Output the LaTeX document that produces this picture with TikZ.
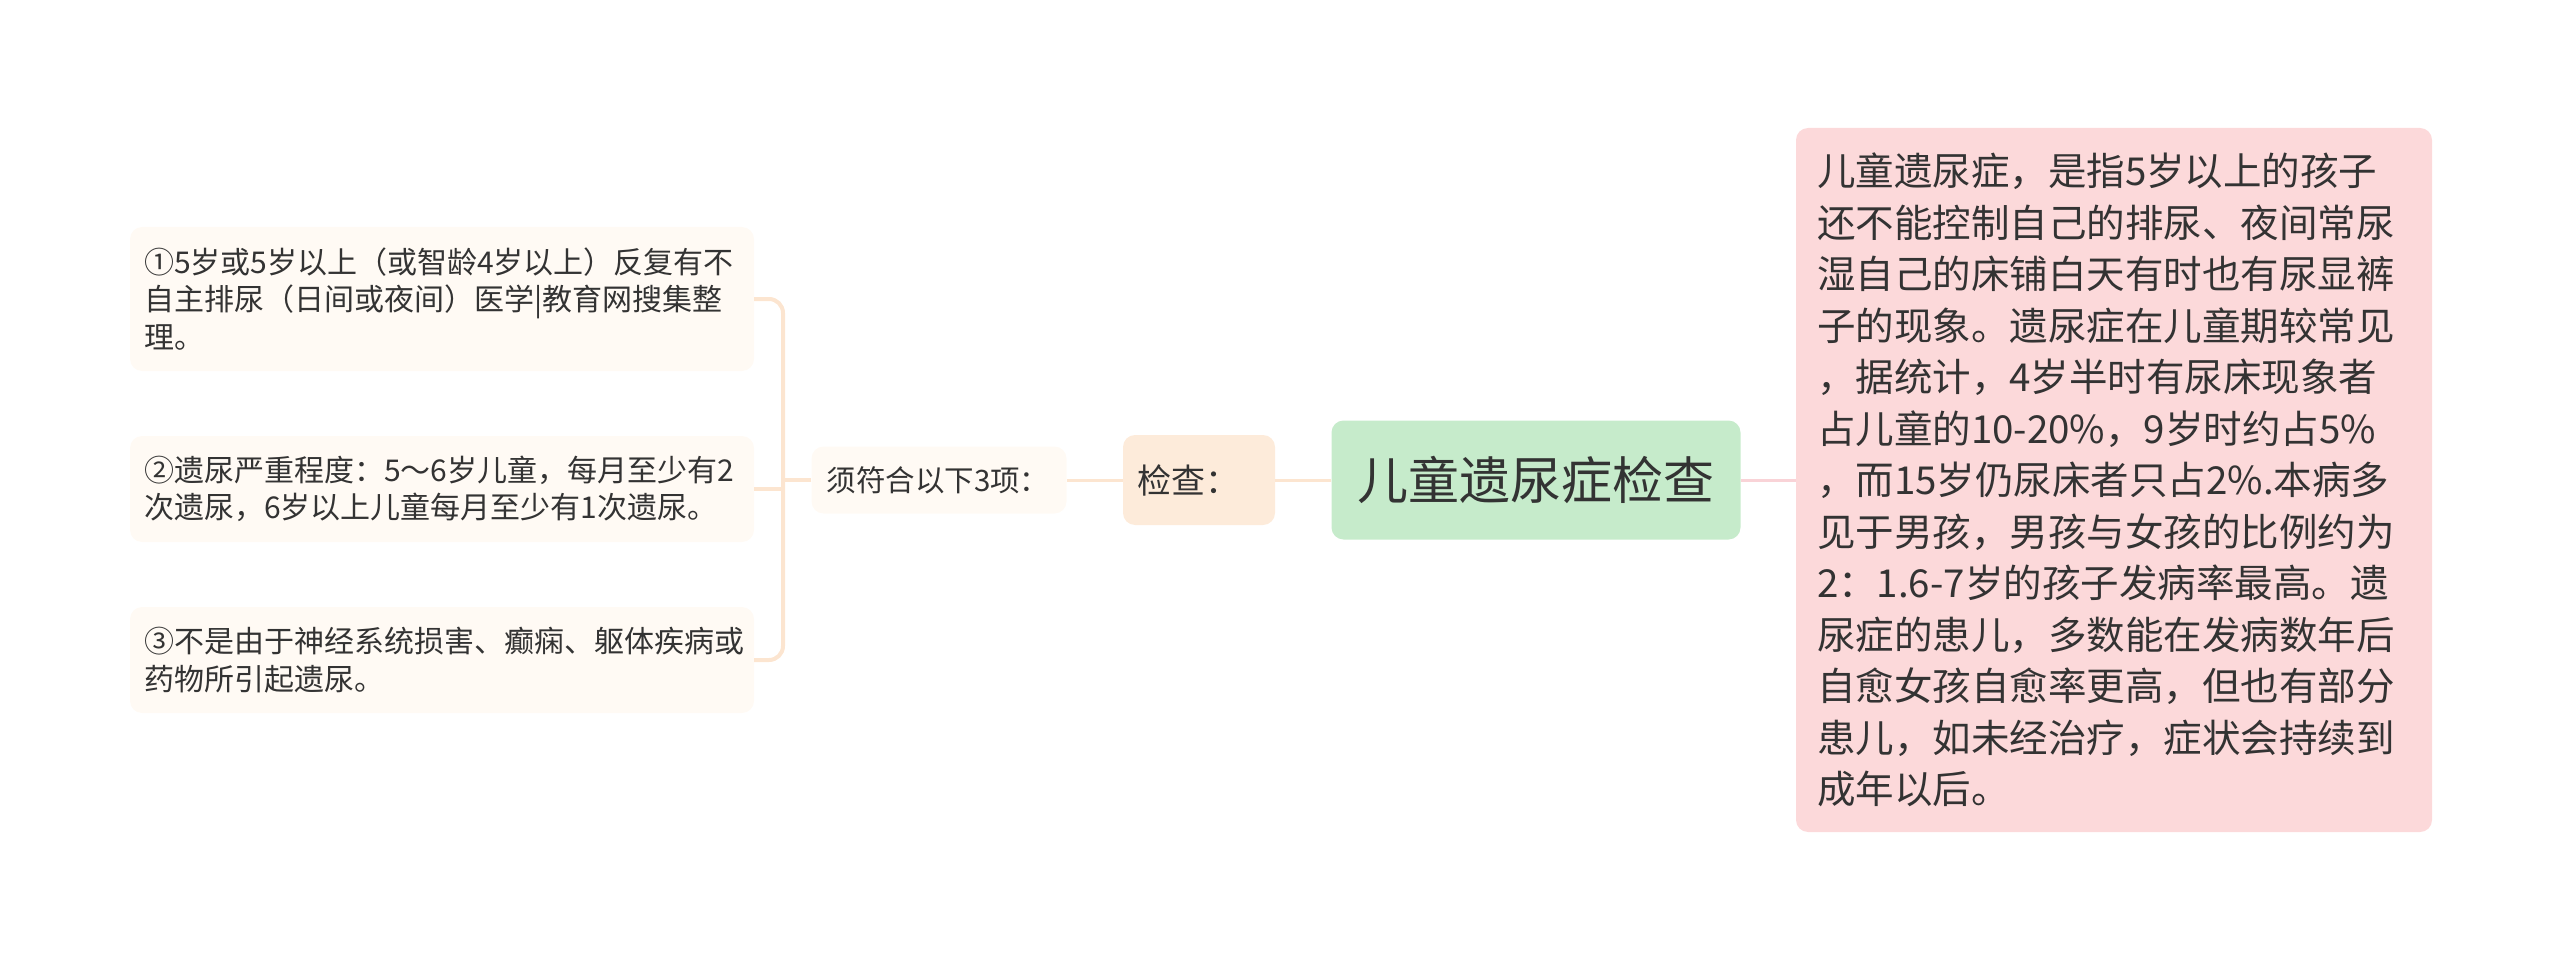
\documentclass[tikz,border=0pt]{standalone}
\usepackage{fontspec}
\setmainfont{Noto Sans CJK SC}
\usetikzlibrary{positioning}

\definecolor{leafbg}{HTML}{FFFAF4}
\definecolor{checkbg}{HTML}{FDEBDA}
\definecolor{rootbg}{HTML}{C6EBCB}
\definecolor{notebg}{HTML}{FCD9DA}
\definecolor{peachline}{HTML}{FCE5D0}
\definecolor{pinkline}{HTML}{F9D3D7}
\definecolor{ink}{HTML}{333333}

\begin{document}
\begin{tikzpicture}[x=1pt,y=-1pt,
	box/.style={rounded corners=12pt, inner sep=0pt, align=left, text=ink},
	leaf/.style={box, fill=leafbg, minimum width=624pt, text width=596pt,
		font=\fontsize{30}{37.5}\selectfont},
	link/.style={line width=3pt, peachline},
	bracket/.style={line width=4pt, peachline, rounded corners=14pt}]

		\useasboundingbox (0,0) rectangle (2560,960);

		\node (root) at (1536,480) [box, fill=rootbg, minimum width=409pt, minimum height=119pt,
			align=center, text=black!80, font=\fontsize{51}{60}\selectfont] {儿童遗尿症检查};

		\node (note) at (2114,480) [box, fill=notebg, minimum width=636pt, minimum height=704pt,
			text width=594pt, font=\fontsize{38.5}{51.5}\selectfont]
			{儿童遗尿症，是指5岁以上的孩子\\还不能控制自己的排尿、夜间常尿\\湿自己的床铺白天有时也有尿显裤\\子的现象。遗尿症在儿童期较常见\\，据统计，4岁半时有尿床现象者\\占儿童的10-20\%，9岁时约占5\%\\，而15岁仍尿床者只占2\%.本病多\\见于男孩，男孩与女孩的比例约为\\2：1.6-7岁的孩子发病率最高。遗\\尿症的患儿，多数能在发病数年后\\自愈女孩自愈率更高，但也有部分\\患儿，如未经治疗，症状会持续到\\成年以后。};

		\node (check) at (1199,480) [box, fill=checkbg, minimum width=152pt, minimum height=90pt,
			text width=124pt, font=\fontsize{34}{40}\selectfont] {检查：};

		\node (rule) at (939,480) [box, fill=leafbg, minimum width=255pt, minimum height=67pt,
			text width=225pt, font=\fontsize{29.5}{36}\selectfont] {须符合以下3项：};

		\node (itemA) at (442,299) [leaf, minimum height=144pt]
			{①5岁或5岁以上（或智龄4岁以上）反复有不\\自主排尿（日间或夜间）医学|教育网搜集整\\理。};
		\node (itemB) at (442,489) [leaf, minimum height=106pt]
			{②遗尿严重程度：5～6岁儿童，每月至少有2\\次遗尿，6岁以上儿童每月至少有1次遗尿。};
		\node (itemC) at (442,660) [leaf, minimum height=106pt]
			{③不是由于神经系统损害、癫痫、躯体疾病或\\药物所引起遗尿。};

		\coordinate (fork) at (783,480);

		\draw [line width=3pt, pinkline] (root.east) -- (note.west);
		\draw [link] (root.west) -- (check.east);
		\draw [link] (check.west) -- (rule.east);
		\draw [bracket] (rule.west) -- (fork);
		\draw [bracket] (fork) |- (itemA.east);
		\draw [bracket] (fork) |- (itemC.east);
		\draw [bracket] (fork |- itemB.east) -- (itemB.east);

\end{tikzpicture}
\end{document}
